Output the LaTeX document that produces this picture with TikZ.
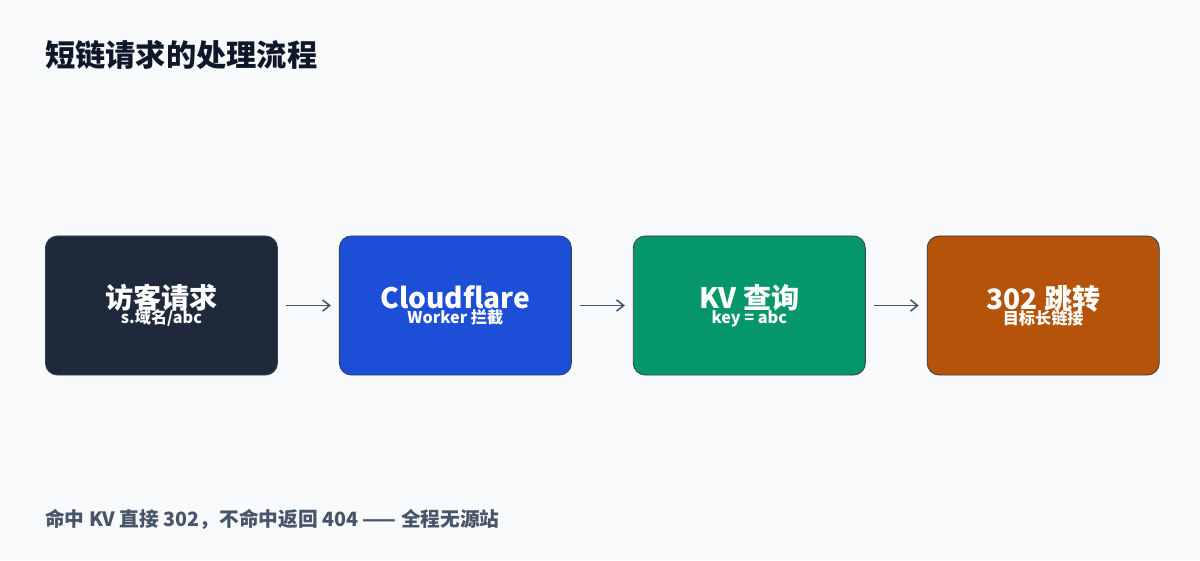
\documentclass[tikz,border=0pt]{standalone}
\usepackage{fontspec}
\setmainfont{Noto Sans CJK SC}
\usetikzlibrary{positioning, arrows.meta}
\definecolor{pagebg}{HTML}{F8FAFC}
\definecolor{titlec}{HTML}{0F172A}
\definecolor{notec}{HTML}{475569}
\definecolor{edgec}{HTML}{334155}
\definecolor{visitc}{HTML}{1E293B}
\definecolor{cfc}{HTML}{1D4ED8}
\definecolor{kvc}{HTML}{059669}
\definecolor{jumpc}{HTML}{B45309}
\tikzset{
    stage/.style={draw=edgec, line width=0.6pt, rounded corners=0.3cm, minimum width=5.8cm,
        minimum height=3.475cm, text=white, align=center, inner sep=0pt},
    flow/.style={-{Straight Barb[length=5pt,width=8pt]}, draw=notec, line width=1.1pt}
}
\newcommand{\steptext}[2]{{\fontsize{20}{22}\selectfont\bfseries #1}\\[-1pt]{\fontsize{11.5}{13}\selectfont\bfseries #2}}
\begin{document}
\begin{tikzpicture}[x=0.025cm, y=-0.025cm, node distance=1.525cm]
    \fill[pagebg] (0,0) rectangle (1200,560);
    \useasboundingbox (0,0) rectangle (1200,560);

    \node[anchor=west, text=titlec, font=\fontsize{21.5}{24}\selectfont\bfseries, inner sep=0pt] (title) at (45,55) {短链请求的处理流程};

    \node[stage, fill=visitc, anchor=west] (visit) at (45,305.5) {\steptext{访客请求}{s.域名/abc}};
    \node[stage, fill=cfc, right=of visit] (cf) {\steptext{Cloudflare}{Worker 拦截}};
    \node[stage, fill=kvc, right=of cf] (kv) {\steptext{KV 查询}{key = abc}};
    \node[stage, fill=jumpc, right=of kv] (jump) {\steptext{302 跳转}{目标长链接}};

    \draw[flow] ([xshift=0.2cm]visit.east) -- ([xshift=-0.2cm]cf.west);
    \draw[flow] ([xshift=0.2cm]cf.east) -- ([xshift=-0.2cm]kv.west);
    \draw[flow] ([xshift=0.2cm]kv.east) -- ([xshift=-0.2cm]jump.west);

    \node[anchor=west, text=notec, font=\fontsize{14}{16}\selectfont\bfseries, inner sep=0pt] (note) at (45,519) {命中 KV 直接 302，不命中返回 404 —— 全程无源站};
\end{tikzpicture}
\end{document}
